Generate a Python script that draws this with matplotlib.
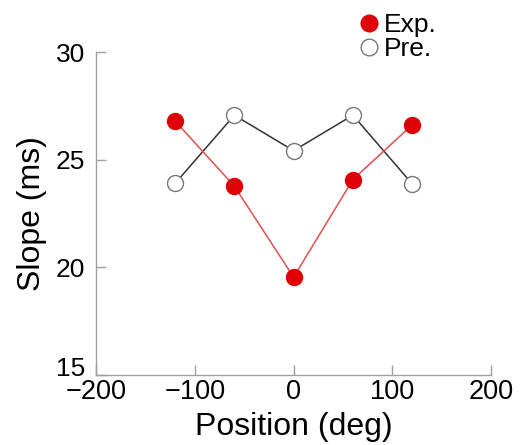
import matplotlib.pyplot as plt
import matplotlib.transforms as mtransforms
from matplotlib.lines import Line2D

plt.rcParams['font.family'] = ['Liberation Sans', 'DejaVu Sans']

# data
positions = [-120, -60, 0, 60, 120]
exp_slope = [26.8, 23.77, 19.55, 24.08, 26.62]
pre_slope = [23.9, 27.07, 25.42, 27.07, 23.88]

red = '#e00008'
gray = '#a0a0a0'

fig = plt.figure(figsize=(5.22, 4.45), dpi=100)
ax = fig.add_axes([0.184, 0.157, 0.757, 0.726])

ax.plot(positions, pre_slope, color='#333333', lw=1.1, marker='o', ms=11.5,
        mfc='white', mec='#777777', mew=1.0, zorder=3)
ax.plot(positions, exp_slope, color='#e05050', lw=1.1, marker='o', ms=11.5,
        mfc=red, mec=red, zorder=4)

ax.set_xlim(-200, 200)
ax.set_ylim(15, 30)
ax.set_xticks([-200, -100, 0, 100, 200])
ax.set_xticklabels(['\u2212200', '\u2212100', '0', '100', '200'])
ax.set_yticks([15, 20, 25, 30])

for s in ['top', 'right']:
    ax.spines[s].set_visible(False)
for s in ['left', 'bottom']:
    ax.spines[s].set_color(gray)
    ax.spines[s].set_linewidth(1.0)

ax.tick_params(direction='in', length=7, width=1.0, color=gray,
               labelsize=19.5, pad=3)
ax.tick_params(axis='y', pad=8, labelsize=19)
ax.set_xlabel('Position (deg)', fontsize=23, labelpad=5)
ax.set_ylabel('Slope (ms)', fontsize=23, labelpad=6)

# nudge the "15" up a little so it sits above "-200" like the original
lab15 = ax.get_yticklabels()[0]
lab15.set_transform(lab15.get_transform() +
                    mtransforms.ScaledTranslation(0, 6 / 72, fig.dpi_scale_trans))

handles = [
    Line2D([], [], ls='none', marker='o', ms=12, mfc=red, mec=red),
    Line2D([], [], ls='none', marker='o', ms=12, mfc='white', mec='#777777'),
]
fig.legend(handles, ['Exp.', 'Pre.'], loc='upper left',
           bbox_to_anchor=(0.672, 0.995), frameon=False, fontsize=19,
           handlelength=0.6, handletextpad=0.25, labelspacing=0.02,
           borderaxespad=0)

fig.savefig('out.png', dpi=100)
